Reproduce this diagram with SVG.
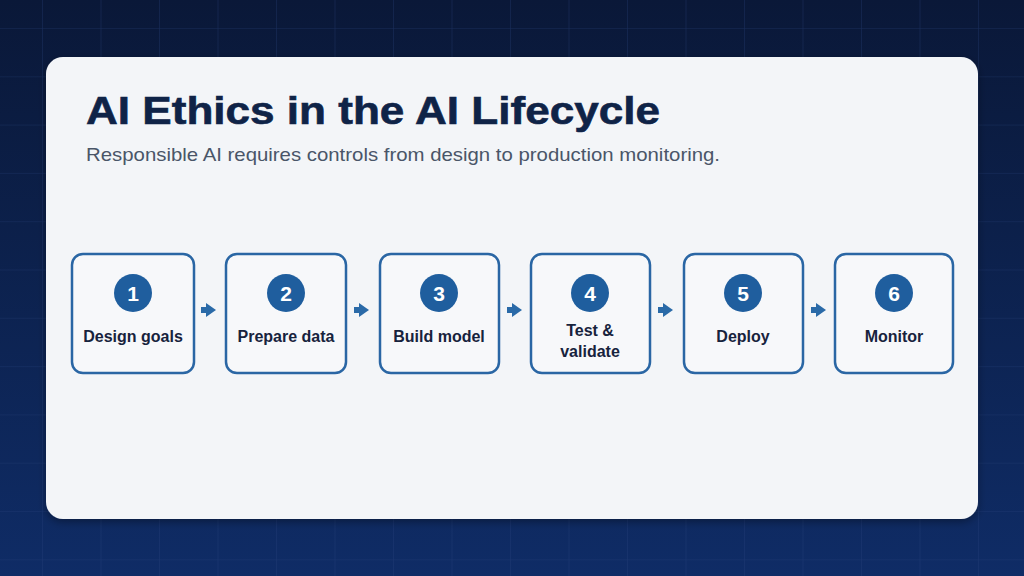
<svg xmlns="http://www.w3.org/2000/svg" width="1024" height="576" viewBox="0 0 1024 576">
<defs>
<linearGradient id="bg" x1="0" y1="0" x2="0" y2="1">
<stop offset="0" stop-color="#0a1838"/>
<stop offset="1" stop-color="#0f2c66"/>
</linearGradient>
<pattern id="grid" x="42" y="28" width="58.5" height="48.3" patternUnits="userSpaceOnUse">
<path d="M0 0V48.3M0 0H58.5" fill="none" stroke="#2a4580" stroke-opacity="0.45" stroke-width="1.2"/>
</pattern>
<filter id="sh" x="-5%" y="-5%" width="110%" height="115%">
<feDropShadow dx="0" dy="3" stdDeviation="4" flood-color="#000" flood-opacity="0.35"/>
</filter>
<marker id="arr" viewBox="0 0 10 14" refX="2" refY="7" markerWidth="10" markerHeight="14" markerUnits="userSpaceOnUse" orient="auto">
<path d="M0 0L10 7L0 14Z" fill="#2a6aa8"/>
</marker>
</defs>
<style>
.box{fill:#f7f8fa;stroke:#2a66a4;stroke-width:2.5}
.num{fill:#1f5e9e}
.nt{font-family:"Liberation Sans",Arial,sans-serif;font-weight:bold;font-size:21px;fill:#fff;text-anchor:middle}
.lb{font-family:"Liberation Sans",Arial,sans-serif;font-weight:bold;font-size:16px;fill:#17233d;text-anchor:middle}
.con{stroke:#2a6aa8;stroke-width:6;fill:none}
</style>
<rect width="1024" height="576" fill="url(#bg)"/>
<rect width="1024" height="576" fill="url(#grid)"/>
<rect x="46" y="57" width="932" height="462" rx="17" fill="#f3f5f8" filter="url(#sh)"/>
<text x="86" y="124" font-family="Liberation Sans,Arial,sans-serif" font-weight="bold" font-size="38" fill="#0f2347" stroke="#0f2347" stroke-width="0.6" textLength="574" lengthAdjust="spacingAndGlyphs">AI Ethics in the AI Lifecycle</text>
<text x="86" y="161" font-family="Liberation Sans,Arial,sans-serif" font-size="19" fill="#4a5568" textLength="634" lengthAdjust="spacingAndGlyphs">Responsible AI requires controls from design to production monitoring.</text>
<g id="connectors">
<path class="con" d="M201 310H208" marker-end="url(#arr)"/>
<path class="con" d="M354 310H361" marker-end="url(#arr)"/>
<path class="con" d="M507 310H514" marker-end="url(#arr)"/>
<path class="con" d="M658 310H665" marker-end="url(#arr)"/>
<path class="con" d="M811 310H818" marker-end="url(#arr)"/>
</g>
<g id="n1"><rect class="box" x="72" y="254" width="122" height="119" rx="11"/><circle class="num" cx="133" cy="293" r="19"/><text class="nt" x="133" y="300.5">1</text><text class="lb" x="133" y="342">Design goals</text></g>
<g id="n2"><rect class="box" x="226" y="254" width="120" height="119" rx="11"/><circle class="num" cx="286" cy="293" r="19"/><text class="nt" x="286" y="300.5">2</text><text class="lb" x="286" y="342">Prepare data</text></g>
<g id="n3"><rect class="box" x="380" y="254" width="119" height="119" rx="11"/><circle class="num" cx="439" cy="293" r="19"/><text class="nt" x="439" y="300.5">3</text><text class="lb" x="439" y="342">Build model</text></g>
<g id="n4"><rect class="box" x="531" y="254" width="119" height="119" rx="11"/><circle class="num" cx="590" cy="293" r="19"/><text class="nt" x="590" y="300.5">4</text><text class="lb" x="590" y="336">Test &amp;</text><text class="lb" x="590" y="357">validate</text></g>
<g id="n5"><rect class="box" x="684" y="254" width="119" height="119" rx="11"/><circle class="num" cx="743" cy="293" r="19"/><text class="nt" x="743" y="300.5">5</text><text class="lb" x="743" y="342">Deploy</text></g>
<g id="n6"><rect class="box" x="835" y="254" width="118" height="119" rx="11"/><circle class="num" cx="894" cy="293" r="19"/><text class="nt" x="894" y="300.5">6</text><text class="lb" x="894" y="342">Monitor</text></g>
</svg>
